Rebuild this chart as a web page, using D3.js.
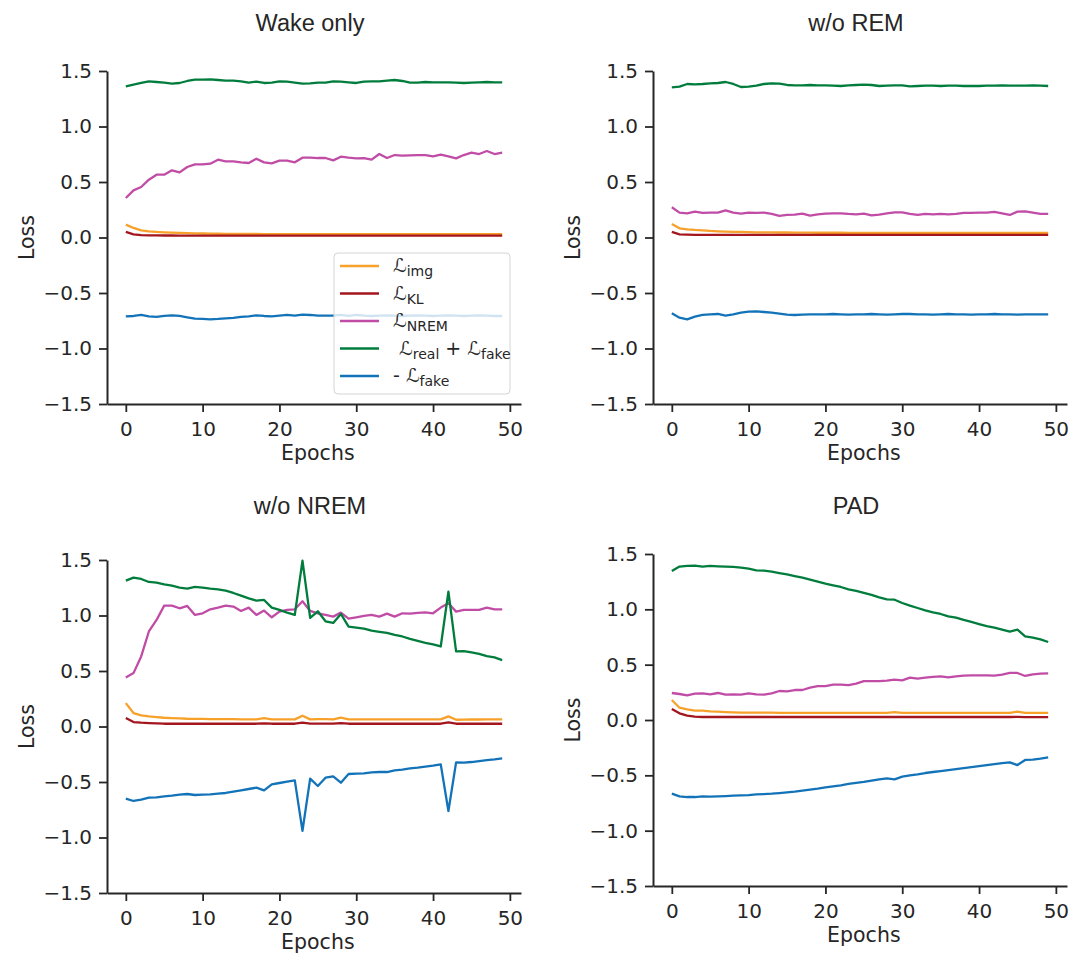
<!DOCTYPE html>
<html>
<head>
<meta charset="utf-8">
<script src="https://cdn.jsdelivr.net/npm/d3@7"></script>
<style>
  body { margin: 0; background: #fff; }
  text { font-family: "DejaVu Sans", sans-serif; fill: #262626; }
  .title { font-family: "Liberation Sans", Arial, Helvetica, sans-serif; }
  .legend text { white-space: pre; }
</style>
</head>
<body>
<svg id="chart" width="1083" height="954"></svg>
<script>
// Epochs 0..49
var epochs = d3.range(50);

// Wake only
var wakeImg = [0.116,0.086,0.065,0.056,0.050,0.047,0.044,0.041,0.039,0.037,
  0.036,0.035,0.034,0.033,0.033,0.032,0.032,0.032,0.031,0.031,
  0.031,0.031,0.030,0.030,0.030,0.030,0.030,0.030,0.030,0.030,
  0.030,0.030,0.030,0.030,0.030,0.030,0.030,0.030,0.030,0.030,
  0.030,0.030,0.030,0.030,0.030,0.030,0.030,0.030,0.030,0.030];
var wakeKl = [0.050,0.029,0.022,0.020,0.019,0.018,0.018,0.017,0.017,0.017,
  0.017,0.017,0.017,0.017,0.017,0.017,0.017,0.017,0.017,0.017,
  0.017,0.017,0.017,0.017,0.017,0.017,0.017,0.017,0.017,0.017,
  0.017,0.017,0.017,0.017,0.017,0.017,0.017,0.017,0.017,0.017,
  0.017,0.017,0.017,0.017,0.017,0.017,0.017,0.017,0.017,0.017];
var wakeNrem = [0.356,0.425,0.455,0.521,0.566,0.566,0.605,0.587,0.635,0.659,
  0.659,0.665,0.701,0.686,0.686,0.677,0.671,0.710,0.677,0.668,
  0.692,0.692,0.677,0.719,0.719,0.716,0.716,0.695,0.728,0.719,
  0.713,0.716,0.701,0.752,0.716,0.743,0.737,0.740,0.743,0.743,
  0.731,0.746,0.731,0.713,0.743,0.764,0.752,0.779,0.752,0.764];
var wakeGan = [1.362,1.377,1.392,1.407,1.401,1.395,1.386,1.392,1.410,1.422,
  1.422,1.425,1.419,1.413,1.413,1.407,1.395,1.404,1.392,1.395,
  1.407,1.404,1.395,1.386,1.389,1.395,1.395,1.407,1.404,1.398,
  1.392,1.404,1.407,1.407,1.413,1.419,1.410,1.395,1.395,1.401,
  1.398,1.398,1.398,1.395,1.392,1.395,1.398,1.401,1.398,1.398];
var wakeFake = [-0.710,-0.707,-0.698,-0.710,-0.716,-0.707,-0.701,-0.707,-0.719,-0.731,
  -0.734,-0.737,-0.734,-0.728,-0.725,-0.716,-0.710,-0.701,-0.707,-0.710,
  -0.704,-0.698,-0.704,-0.695,-0.698,-0.704,-0.704,-0.704,-0.698,-0.707,
  -0.698,-0.704,-0.707,-0.704,-0.701,-0.704,-0.707,-0.704,-0.701,-0.704,
  -0.707,-0.704,-0.701,-0.704,-0.707,-0.704,-0.701,-0.704,-0.707,-0.707];

// w/o REM
var remImg = [0.122,0.083,0.074,0.068,0.065,0.059,0.056,0.053,0.051,0.050,
  0.048,0.047,0.046,0.046,0.045,0.045,0.044,0.044,0.044,0.043,
  0.043,0.043,0.043,0.042,0.042,0.042,0.042,0.042,0.041,0.041,
  0.041,0.041,0.041,0.041,0.041,0.041,0.041,0.041,0.041,0.041,
  0.041,0.041,0.041,0.041,0.041,0.041,0.041,0.041,0.041,0.041];
var remKl = [0.050,0.029,0.026,0.024,0.023,0.023,0.023,0.023,0.023,0.023,
  0.023,0.023,0.023,0.023,0.023,0.023,0.023,0.023,0.023,0.023,
  0.023,0.023,0.023,0.023,0.023,0.023,0.023,0.023,0.023,0.023,
  0.023,0.023,0.023,0.023,0.023,0.023,0.023,0.023,0.023,0.023,
  0.023,0.023,0.023,0.023,0.023,0.023,0.023,0.023,0.023,0.023];
var remNrem = [0.272,0.224,0.218,0.233,0.221,0.224,0.224,0.245,0.224,0.215,
  0.224,0.221,0.224,0.212,0.194,0.203,0.206,0.215,0.197,0.209,
  0.215,0.218,0.218,0.212,0.209,0.215,0.200,0.206,0.218,0.227,
  0.227,0.212,0.203,0.212,0.209,0.212,0.209,0.212,0.221,0.221,
  0.224,0.224,0.230,0.218,0.203,0.233,0.236,0.224,0.212,0.212];
var remGan = [1.353,1.359,1.383,1.380,1.383,1.389,1.392,1.401,1.383,1.356,
  1.359,1.368,1.383,1.389,1.386,1.374,1.371,1.371,1.374,1.371,
  1.371,1.368,1.365,1.371,1.374,1.377,1.374,1.365,1.368,1.371,
  1.371,1.362,1.365,1.368,1.368,1.365,1.368,1.368,1.365,1.365,
  1.365,1.368,1.368,1.371,1.368,1.368,1.368,1.371,1.368,1.365];
var remFake = [-0.683,-0.722,-0.737,-0.713,-0.698,-0.692,-0.689,-0.704,-0.692,-0.677,
  -0.668,-0.665,-0.671,-0.677,-0.686,-0.695,-0.698,-0.695,-0.692,-0.692,
  -0.692,-0.689,-0.692,-0.695,-0.692,-0.692,-0.689,-0.692,-0.695,-0.692,
  -0.689,-0.689,-0.692,-0.692,-0.695,-0.692,-0.689,-0.692,-0.692,-0.695,
  -0.692,-0.692,-0.689,-0.692,-0.692,-0.695,-0.692,-0.692,-0.692,-0.692];

// w/o NREM
var nremImg = [0.211,0.121,0.100,0.091,0.085,0.079,0.076,0.073,0.070,0.069,
  0.068,0.067,0.067,0.066,0.066,0.065,0.065,0.064,0.076,0.064,
  0.064,0.064,0.064,0.097,0.064,0.067,0.067,0.064,0.079,0.064,
  0.064,0.064,0.064,0.064,0.064,0.064,0.064,0.064,0.064,0.064,
  0.064,0.064,0.091,0.061,0.062,0.063,0.063,0.064,0.064,0.064];
var nremKl = [0.076,0.040,0.034,0.031,0.028,0.025,0.025,0.025,0.025,0.025,
  0.025,0.025,0.025,0.025,0.025,0.025,0.025,0.025,0.028,0.025,
  0.025,0.025,0.025,0.034,0.025,0.026,0.026,0.025,0.031,0.025,
  0.025,0.025,0.025,0.025,0.025,0.025,0.025,0.025,0.025,0.025,
  0.025,0.025,0.037,0.025,0.025,0.025,0.025,0.025,0.025,0.025];
var nremNrem = [0.442,0.481,0.631,0.856,0.960,1.089,1.089,1.065,1.086,1.005,
  1.020,1.056,1.071,1.089,1.080,1.041,1.071,1.005,1.044,0.984,
  1.035,1.050,1.056,1.128,1.041,1.020,1.005,0.990,1.026,0.972,
  0.984,0.996,1.005,0.990,1.017,0.990,1.020,1.017,1.023,1.029,
  1.020,1.071,1.110,1.035,1.050,1.050,1.050,1.071,1.056,1.056];
var nremGan = [1.314,1.341,1.329,1.302,1.296,1.281,1.269,1.251,1.242,1.257,
  1.251,1.242,1.236,1.224,1.203,1.179,1.155,1.134,1.140,1.071,
  1.050,1.026,1.005,1.494,0.978,1.038,0.948,0.933,1.014,0.900,
  0.891,0.882,0.864,0.853,0.843,0.826,0.811,0.790,0.772,0.754,
  0.739,0.721,1.215,0.676,0.679,0.667,0.655,0.634,0.622,0.598];
var nremFake = [-0.650,-0.671,-0.659,-0.641,-0.638,-0.629,-0.623,-0.614,-0.608,-0.617,
  -0.614,-0.611,-0.605,-0.599,-0.587,-0.575,-0.563,-0.551,-0.575,-0.521,
  -0.509,-0.497,-0.485,-0.941,-0.470,-0.536,-0.461,-0.449,-0.506,-0.428,
  -0.425,-0.422,-0.413,-0.410,-0.410,-0.395,-0.389,-0.377,-0.371,-0.362,
  -0.353,-0.341,-0.761,-0.323,-0.326,-0.320,-0.311,-0.302,-0.296,-0.287];

// PAD
var padImg = [0.181,0.111,0.096,0.084,0.084,0.078,0.075,0.072,0.069,0.066,
  0.066,0.066,0.066,0.066,0.065,0.065,0.065,0.065,0.064,0.064,
  0.064,0.064,0.064,0.064,0.064,0.064,0.064,0.064,0.064,0.072,
  0.064,0.064,0.064,0.064,0.064,0.064,0.064,0.064,0.064,0.064,
  0.064,0.064,0.064,0.064,0.064,0.075,0.064,0.064,0.064,0.064];
var padKl = [0.099,0.060,0.039,0.030,0.027,0.027,0.027,0.027,0.027,0.027,
  0.027,0.027,0.027,0.027,0.027,0.027,0.027,0.027,0.027,0.027,
  0.027,0.027,0.027,0.027,0.027,0.027,0.027,0.027,0.027,0.029,
  0.027,0.027,0.027,0.027,0.027,0.027,0.027,0.027,0.027,0.027,
  0.027,0.027,0.027,0.027,0.027,0.029,0.026,0.026,0.026,0.026];
var padNrem = [0.244,0.235,0.223,0.238,0.241,0.232,0.244,0.229,0.232,0.229,
  0.241,0.232,0.229,0.241,0.262,0.259,0.271,0.271,0.292,0.307,
  0.307,0.319,0.319,0.316,0.328,0.352,0.352,0.352,0.355,0.364,
  0.358,0.383,0.373,0.383,0.389,0.395,0.386,0.395,0.401,0.404,
  0.404,0.404,0.401,0.410,0.425,0.425,0.398,0.413,0.419,0.422];
var padGan = [1.346,1.386,1.392,1.395,1.386,1.392,1.389,1.386,1.383,1.377,
  1.367,1.352,1.349,1.340,1.328,1.316,1.301,1.286,1.268,1.250,
  1.232,1.217,1.202,1.181,1.166,1.148,1.130,1.108,1.090,1.087,
  1.057,1.033,1.012,0.991,0.973,0.958,0.937,0.925,0.904,0.886,
  0.867,0.849,0.834,0.816,0.798,0.816,0.756,0.744,0.729,0.705];
var padFake = [-0.666,-0.690,-0.696,-0.696,-0.690,-0.693,-0.690,-0.687,-0.684,-0.681,
  -0.678,-0.672,-0.669,-0.666,-0.660,-0.654,-0.648,-0.639,-0.630,-0.620,
  -0.608,-0.599,-0.590,-0.578,-0.569,-0.560,-0.548,-0.536,-0.527,-0.536,
  -0.512,-0.500,-0.491,-0.479,-0.470,-0.461,-0.452,-0.443,-0.434,-0.425,
  -0.416,-0.407,-0.398,-0.389,-0.383,-0.407,-0.361,-0.358,-0.349,-0.337];

var xTicks = [0, 10, 20, 30, 40, 50];
var yTicks = [-1.5, -1.0, -0.5, 0.0, 0.5, 1.0, 1.5];
var colors = ["#f7a12b", "#a3161d", "#c04ca6", "#007d3c", "#1373b8"];
// legend labels: [text, isSubscript]
var legendLabels = [
  [["ℒ", 0], ["img", 1]],
  [["ℒ", 0], ["KL", 1]],
  [["ℒ", 0], ["NREM", 1]],
  [[" ℒ", 0], ["real", 1], [" + ℒ", 0], ["fake", 1]],
  [["- ℒ", 0], ["fake", 1]]
];

var panels = [
  { title: "Wake only", left: 107, top: 71, height: 333, titleY: 31,
    series: [wakeImg, wakeKl, wakeNrem, wakeGan, wakeFake], legend: true },
  { title: "w/o REM", left: 653, top: 71, height: 333, titleY: 31,
    series: [remImg, remKl, remNrem, remGan, remFake] },
  { title: "w/o NREM", left: 107, top: 560, height: 333, titleY: 514,
    series: [nremImg, nremKl, nremNrem, nremGan, nremFake] },
  { title: "PAD", left: 653, top: 554, height: 332, titleY: 514,
    series: [padImg, padKl, padNrem, padGan, padFake] }
];

var width = 414;
var svg = d3.select("#chart");

panels.forEach(function(p) {
  var g = svg.append("g");

  var x = d3.scaleLinear().domain([-2.45, 51.45]).range([p.left, p.left + width]);
  var y = d3.scaleLinear().domain([-1.5, 1.5]).range([p.top + p.height, p.top]);

  var line = d3.line()
    .x(function(d, i) { return x(epochs[i]); })
    .y(function(d) { return y(d); });

  //Draws the five loss curves.
  p.series.forEach(function(s, i) {
    g.append("path")
      .datum(s)
      .attr("fill", "none")
      .attr("stroke", colors[i])
      .attr("stroke-width", 2.3)
      .attr("stroke-linejoin", "round")
      .attr("d", line);
  });

  //Axes, only left and bottom spines.
  var xAxis = g.append("g")
    .attr("transform", "translate(0," + (p.top + p.height) + ")")
    .call(d3.axisBottom(x).tickValues(xTicks).tickSize(8).tickSizeOuter(0).tickPadding(10)
      .tickFormat(d3.format("d")));

  var yAxis = g.append("g")
    .attr("transform", "translate(" + p.left + ",0)")
    .call(d3.axisLeft(y).tickValues(yTicks).tickSize(8).tickSizeOuter(0).tickPadding(7)
      .tickFormat(d3.format(".1f")));

  [xAxis, yAxis].forEach(function(a) {
    a.select(".domain").attr("stroke", "#262626").attr("stroke-width", 2);
    a.selectAll(".tick line").attr("stroke", "#262626").attr("stroke-width", 1.8);
    a.selectAll(".tick text").attr("font-size", 20).attr("fill", "#262626")
      .style("font-family", "'DejaVu Sans', sans-serif");
  });

  g.append("text")
    .attr("class", "title")
    .attr("x", p.left + width / 2 - 4)
    .attr("y", p.titleY)
    .attr("text-anchor", "middle")
    .attr("font-size", 23.5)
    .text(p.title);

  g.append("text")
    .attr("x", x(25))
    .attr("y", p.top + p.height + 56)
    .attr("text-anchor", "middle")
    .attr("font-size", 20.5)
    .text("Epochs");

  g.append("text")
    .attr("transform", "translate(" + (p.left - 73) + "," + (p.top + p.height / 2) + ") rotate(-90)")
    .attr("text-anchor", "middle")
    .attr("font-size", 20.5)
    .text("Loss");

  if (p.legend) drawLegend(g);
});

//Legend box inside the first panel.
function drawLegend(g) {
  var lg = g.append("g").attr("class", "legend");
  lg.append("rect")
    .attr("x", 334).attr("y", 253)
    .attr("width", 176).attr("height", 141)
    .attr("rx", 4)
    .attr("fill", "#fff").attr("fill-opacity", 0.8)
    .attr("stroke", "#d4d4d4").attr("stroke-width", 1);

  legendLabels.forEach(function(parts, i) {
    var cy = 266 + i * 27.5;
    lg.append("line")
      .attr("x1", 340).attr("x2", 379)
      .attr("y1", cy).attr("y2", cy)
      .attr("stroke", colors[i]).attr("stroke-width", 2.3);

    var t = lg.append("text")
      .attr("x", 393).attr("y", cy + 6)
      .attr("font-size", 19);
    var down = false;
    parts.forEach(function(part) {
      var ts = t.append("tspan").text(part[0]);
      if (part[1]) {
        ts.attr("font-size", 14).attr("dy", down ? 0 : 4);
        down = true;
      } else {
        ts.attr("font-size", 19).attr("dy", down ? -4 : 0);
        down = false;
      }
    });
  });
}
</script>
</body>
</html>
